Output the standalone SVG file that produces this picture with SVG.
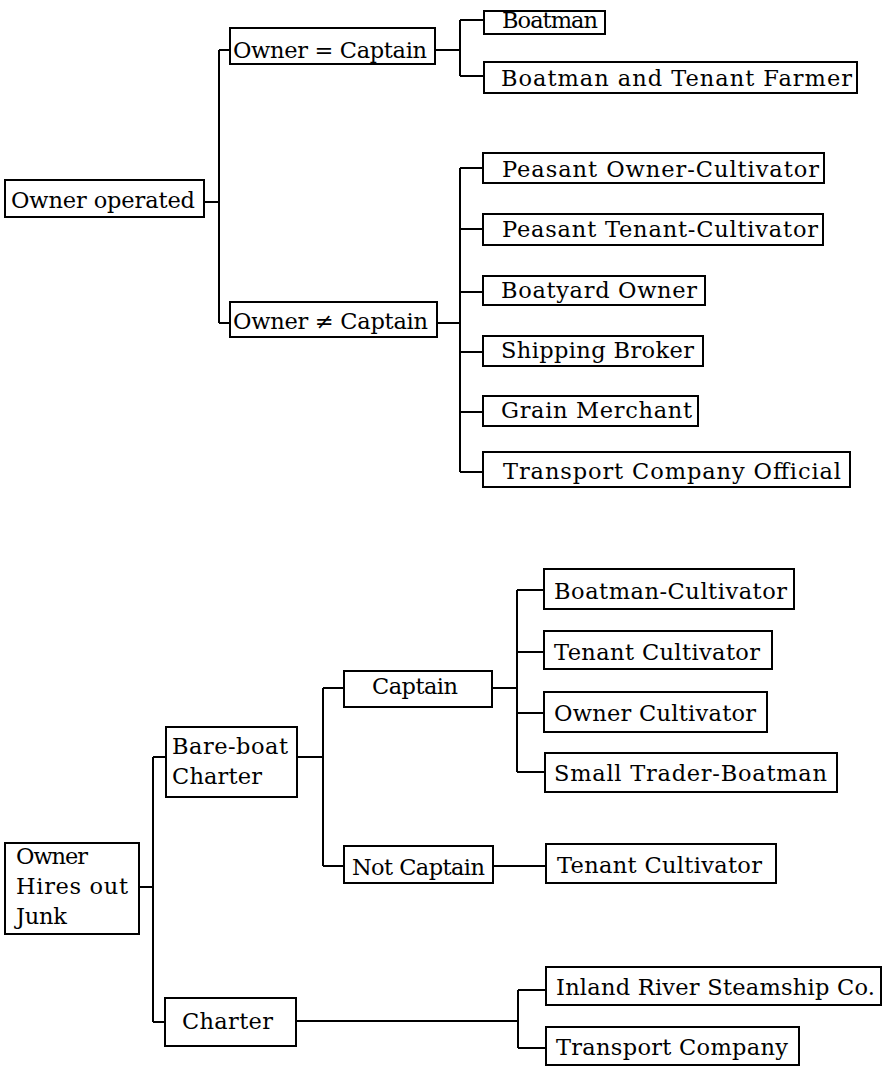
<svg xmlns="http://www.w3.org/2000/svg" width="883" height="1067" viewBox="0 0 883 1067">
<style>
rect{fill:#fff;stroke:#000;stroke-width:2}
#connectors path{fill:none;stroke:#000;stroke-width:2}
text{font-family:"DejaVu Serif","Liberation Serif",serif;font-size:22.5px;fill:#000}
</style>
<rect x="0" y="0" width="883" height="1067" style="stroke:none"/>
<g id="connectors">
<path d="M204,202 H219 M219,50 V323 M219,50 H230 M219,323 H230"/>
<path d="M435,50 H460 M460,20 V76 M460,20 H484 M460,76 H484"/>
<path d="M437,323 H460 M460,168 V472 M460,168 H483 M460,229 H483 M460,292 H483 M460,352 H483 M460,412 H483 M460,472 H483"/>
<path d="M139,887 H153 M153,757 V1022 M153,757 H166 M153,1022 H165"/>
<path d="M297,757 H323 M323,688 V866 M323,688 H344 M323,866 H344"/>
<path d="M492,688 H517 M517,590 V772 M517,590 H544 M517,652 H544 M517,713 H544 M517,772 H545"/>
<path d="M493,866 H546"/>
<path d="M296,1021 H518 M518,990 V1048 M518,990 H546 M518,1048 H546"/>
</g>
<g id="n-owner-operated"><rect x="5" y="180" width="199" height="37"/><text x="11" y="208" textLength="184" lengthAdjust="spacing">Owner operated</text></g>
<g id="n-owner-eq-captain"><rect x="230" y="28" width="205" height="36"/><text x="233" y="58" textLength="194" lengthAdjust="spacing">Owner = Captain</text></g>
<g id="n-owner-ne-captain"><rect x="230" y="302" width="207" height="35"/><text x="233" y="329" textLength="195" lengthAdjust="spacing">Owner ≠ Captain</text></g>
<g id="n-boatman"><rect x="484" y="11" width="121" height="23"/><text x="502" y="28" textLength="96" lengthAdjust="spacing">Boatman</text></g>
<g id="n-boatman-tenant-farmer"><rect x="484" y="62" width="373" height="31"/><text x="501" y="86" textLength="351" lengthAdjust="spacing">Boatman and Tenant Farmer</text></g>
<g id="n-peasant-owner"><rect x="483" y="153" width="341" height="30"/><text x="502" y="177" textLength="317" lengthAdjust="spacing">Peasant Owner-Cultivator</text></g>
<g id="n-peasant-tenant"><rect x="483" y="214" width="340" height="31"/><text x="502" y="237" textLength="316" lengthAdjust="spacing">Peasant Tenant-Cultivator</text></g>
<g id="n-boatyard-owner"><rect x="483" y="276" width="222" height="29"/><text x="501" y="298" textLength="196" lengthAdjust="spacing">Boatyard Owner</text></g>
<g id="n-shipping-broker"><rect x="483" y="336" width="220" height="30"/><text x="501" y="358" textLength="193" lengthAdjust="spacing">Shipping Broker</text></g>
<g id="n-grain-merchant"><rect x="483" y="396" width="215" height="30"/><text x="501" y="418" textLength="191" lengthAdjust="spacing">Grain Merchant</text></g>
<g id="n-transport-official"><rect x="483" y="452" width="367" height="35"/><text x="503" y="479" textLength="338" lengthAdjust="spacing">Transport Company Official</text></g>
<g id="n-owner-hires"><rect x="5" y="843" width="134" height="91"/><text x="16" y="864" textLength="72" lengthAdjust="spacing">Owner</text><text x="16" y="894" textLength="112" lengthAdjust="spacing">Hires out</text><text x="16" y="924" textLength="51" lengthAdjust="spacing">Junk</text></g>
<g id="n-bareboat"><rect x="166" y="727" width="131" height="70"/><text x="172" y="754" textLength="116" lengthAdjust="spacing">Bare-boat</text><text x="172" y="784" textLength="90" lengthAdjust="spacing">Charter</text></g>
<g id="n-charter"><rect x="165" y="998" width="131" height="48"/><text x="182" y="1029" textLength="91" lengthAdjust="spacing">Charter</text></g>
<g id="n-captain"><rect x="344" y="671" width="148" height="36"/><text x="372" y="694" textLength="86" lengthAdjust="spacing">Captain</text></g>
<g id="n-not-captain"><rect x="344" y="846" width="149" height="37"/><text x="352" y="875" textLength="133" lengthAdjust="spacing">Not Captain</text></g>
<g id="n-boatman-cultivator"><rect x="544" y="569" width="250" height="40"/><text x="554" y="599" textLength="233" lengthAdjust="spacing">Boatman-Cultivator</text></g>
<g id="n-tenant-cultivator-1"><rect x="544" y="631" width="228" height="38"/><text x="554" y="660" textLength="206" lengthAdjust="spacing">Tenant Cultivator</text></g>
<g id="n-owner-cultivator"><rect x="544" y="692" width="223" height="40"/><text x="554" y="721" textLength="202" lengthAdjust="spacing">Owner Cultivator</text></g>
<g id="n-small-trader"><rect x="545" y="753" width="292" height="39"/><text x="554" y="781" textLength="273" lengthAdjust="spacing">Small Trader-Boatman</text></g>
<g id="n-tenant-cultivator-2"><rect x="546" y="844" width="230" height="39"/><text x="557" y="873" textLength="205" lengthAdjust="spacing">Tenant Cultivator</text></g>
<g id="n-inland-river"><rect x="546" y="967" width="335" height="38"/><text x="556" y="995" textLength="319" lengthAdjust="spacing">Inland River Steamship Co.</text></g>
<g id="n-transport-company"><rect x="546" y="1027" width="253" height="38"/><text x="556" y="1055" textLength="232" lengthAdjust="spacing">Transport Company</text></g>
</svg>
